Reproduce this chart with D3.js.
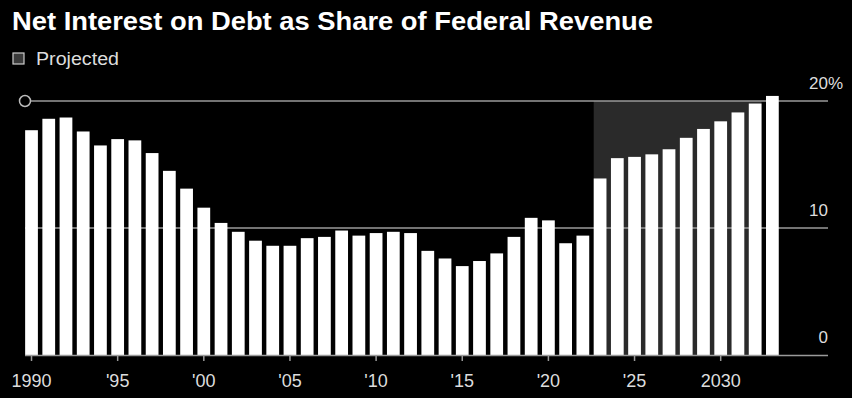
<!DOCTYPE html>
<html>
<head>
<meta charset="utf-8">
<script src="https://cdn.jsdelivr.net/npm/d3@7"></script>
<style>
  body { margin: 0; background: #000; }
  svg { display: block; font-family: "Liberation Sans", Arial, sans-serif; }
  .title { fill: #fff; font-weight: bold; font-size: 25px; }
  .legend-text { fill: #ddd; font-size: 18px; }
  .axis text { fill: #ddd; font-size: 18px; font-family: "Liberation Sans", Arial, sans-serif; }
  .axis path, .axis line { stroke: #9a9a9a; stroke-width: 1.5px; }
  .grid { stroke: #9a9a9a; stroke-width: 1.5px; }
  .bar { fill: #fff; }
  .projected { fill: #2a2a2a; }
</style>
</head>
<body>
<svg width="852" height="398"></svg>
<script>
var years = d3.range(1990, 2034);
var share = [17.7, 18.6, 18.7, 17.6, 16.5, 17.0, 16.9, 15.9, 14.5, 13.1,
             11.6, 10.4, 9.7, 9.0, 8.6, 8.6, 9.2, 9.3, 9.8, 9.4,
             9.6, 9.7, 9.6, 8.2, 7.6, 7.0, 7.4, 8.0, 9.3, 10.8,
             10.6, 8.8, 9.4, 13.9, 15.5, 15.6, 15.8, 16.2, 17.1, 17.8,
             18.4, 19.1, 19.8, 20.4];
var projectedStart = 2023, projectedEnd = 2032;
var tickYears = [1990, 1995, 2000, 2005, 2010, 2015, 2020, 2025, 2030];
var yTicks = [0, 10, 20];

var svg = d3.select("svg");

svg.append("text")
    .attr("class", "title")
    .attr("x", 12)
    .attr("y", 30)
    .attr("textLength", 641)
    .attr("lengthAdjust", "spacingAndGlyphs")
    .text("Net Interest on Debt as Share of Federal Revenue");

svg.append("rect")
    .attr("x", 13).attr("y", 53)
    .attr("width", 11).attr("height", 11)
    .attr("fill", "#3a3a3a")
    .attr("stroke", "#ccc")
    .attr("stroke-width", 1.2);

svg.append("text")
    .attr("class", "legend-text")
    .attr("x", 36)
    .attr("y", 65)
    .attr("textLength", 83)
    .attr("lengthAdjust", "spacingAndGlyphs")
    .text("Projected");

var x = d3.scaleBand()
    .domain(years)
    .range([22.9, 781])
    .paddingInner(0.26)
    .paddingOuter(0.13);

var y = d3.scaleLinear().domain([0, 20]).range([355, 101]);

var axisLeft = 25, axisRight = 828;

// projected shading
svg.append("rect")
    .attr("class", "projected")
    .attr("x", x(projectedStart))
    .attr("y", y(20))
    .attr("width", x(projectedEnd) + x.bandwidth() - x(projectedStart))
    .attr("height", y(0) - y(20));

// gridlines
svg.selectAll(".grid").data(yTicks.filter(function(d){return d > 0;})).enter().append("line")
    .attr("class", "grid")
    .attr("x1", function(d){return d === 20 ? axisLeft + 6 : axisLeft;})
    .attr("x2", axisRight)
    .attr("y1", function(d){return y(d);})
    .attr("y2", function(d){return y(d);});

svg.append("circle")
    .attr("cx", axisLeft)
    .attr("cy", y(20))
    .attr("r", 5.5)
    .attr("fill", "none")
    .attr("stroke", "#bbb")
    .attr("stroke-width", 1.5);

svg.selectAll(".bar").data(years).enter().append("rect")
    .attr("class", "bar")
    .attr("x", function(d){return x(d);})
    .attr("y", function(d, i){return y(share[i]);})
    .attr("width", x.bandwidth())
    .attr("height", function(d, i){return y(0) - y(share[i]);});

// x axis
var xAxis = svg.append("g")
    .attr("class", "axis axis--x")
    .attr("transform", "translate(0," + y(0) + ")")
    .call(d3.axisBottom(x)
        .tickValues(tickYears)
        .tickSize(6)
        .tickSizeOuter(0)
        .tickPadding(13)
        .tickFormat(function(d){
            return (d === 1990 || d === 2030) ? String(d) : "'" + String(d).slice(2);
        }));
xAxis.select(".domain").attr("d", "M" + axisLeft + ",0.5H" + axisRight);

// y labels
svg.selectAll(".ylab").data(yTicks).enter().append("text")
    .attr("class", "ylab")
    .attr("x", axisRight)
    .attr("y", function(d){return y(d) - 12;})
    .attr("text-anchor", "end")
    .attr("fill", "#ddd")
    .attr("font-size", 17)
    .text(function(d){return d;});

svg.append("text")
    .attr("x", axisRight)
    .attr("y", y(20) - 12)
    .attr("fill", "#ddd")
    .attr("font-size", 17)
    .text("%");
</script>
</body>
</html>
